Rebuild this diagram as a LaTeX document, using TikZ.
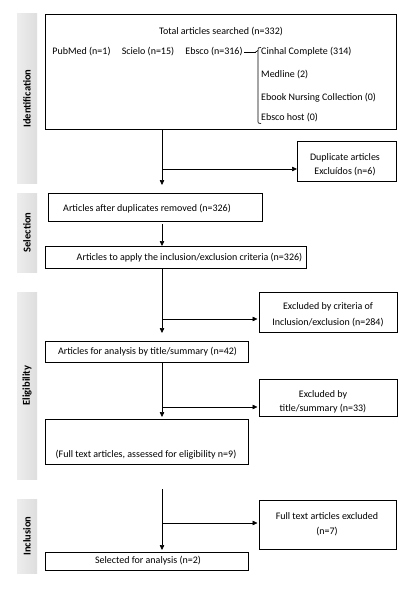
\documentclass[tikz,border=0pt]{standalone}
\usepackage{fontspec}
\setmainfont{Carlito}
\usetikzlibrary{arrows.meta}
\begin{document}
\begin{tikzpicture}[x=1pt,y=-1pt,
 box/.style={draw=black, line width=0.8pt, inner sep=0pt, outer sep=0pt},
 txt/.style={font=\fontsize{10}{15}\selectfont, inner sep=0pt, align=center},
 bar/.style={left color=gray!14, right color=gray!26, draw=none, inner sep=0pt, minimum width=20},
 barlbl/.style={font=\fontsize{10.5}{12}\selectfont\bfseries, rotate=90, inner sep=0pt},
 arr/.style={line width=0.6pt, -{Triangle[length=5pt,width=4.5pt]}},
 ln/.style={line width=0.6pt}]
\useasboundingbox (0,0) rectangle (415,591);
\fill[white] (0,0) rectangle (415,591);

% phase bars
\node[bar, minimum height=169] (idbar) at (27,98.5) {};
\node[barlbl] at (idbar) {Identification};
\node[bar, minimum height=79] (selbar) at (27,232.5) {};
\node[barlbl] at (selbar) {Selection};
\node[bar, minimum height=187] (elbar) at (27,385.5) {};
\node[barlbl] at (elbar) {Eligibility};
\node[bar, minimum height=74] (inbar) at (27,536) {};
\node[barlbl] at (inbar) {Inclusion};

% boxes
\node[box, minimum width=351, minimum height=115] (main) at (220.5,71.5) {};
\node[box, minimum width=99,  minimum height=40]  (dup)  at (346.5,161) {};
\node[box, minimum width=214, minimum height=28]  (after) at (155,207) {};
\node[box, minimum width=261, minimum height=22]  (apply) at (175.5,257) {};
\node[box, minimum width=138, minimum height=40]  (excla) at (328,312) {};
\node[box, minimum width=203, minimum height=21]  (title) at (146.5,351.5) {};
\node[box, minimum width=138, minimum height=37]  (exclb) at (328,397.5) {};
\node[box, minimum width=203, minimum height=45]  (full) at (146.5,441.5) {};
\node[box, minimum width=137, minimum height=49]  (exclc) at (327.5,524.5) {};
\node[box, minimum width=203, minimum height=18]  (sel) at (146.5,561) {};

% texts in the main box
\node[txt] (total) at (221,32) {Total articles searched (n=332)};
\node[txt] (pub) at (81.5,52) {PubMed (n=1)};
\node[txt] (sci) at (148,52) {Scielo (n=15)};
\node[txt] (ebs) at (214,52) {Ebsco (n=316)};
\node[txt, anchor=west] (cin) at (261,52) {Cinhal Complete (314)};
\node[txt, anchor=west] (med) at (261,75) {Medline (2)};
\node[txt, anchor=west] (ebo) at (261,98) {Ebook Nursing Collection (0)};
\node[txt, anchor=west] (ebh) at (261,118) {Ebsco host (0)};
\draw[ln] (ebs.east) ++(1.5,0) coordinate (d0) -- (255.5,52) coordinate (d1);
\draw[ln] (261,47.5) .. controls (258,47.5) .. (258,50.5) -- (258,120) .. controls (258,123.5) .. (261,123.5);
\draw[ln] (d1) -- (258,50.5);

% texts in other boxes
\node[txt, font=\fontsize{10}{14}\selectfont] at (345,165) {Duplicate articles\\Excluídos (n=6)};
\node[txt] at (147,209) {Articles after duplicates removed (n=326)};
\node[txt] at (189.5,258) {Articles to apply the inclusion/exclusion criteria (n=326)};
\node[txt, font=\fontsize{10}{16}\selectfont] at (328,315) {Excluded by criteria of\\Inclusion/exclusion (n=284)};
\node[txt] at (147.5,352) {Articles for analysis by title/summary (n=42)};
\node[txt, font=\fontsize{10}{14}\selectfont] at (323,402) {Excluded by\\title/summary (n=33)};
\node[txt] at (146,455) {(Full text articles, assessed for eligibility n=9)};
\node[txt] at (327,524.5) {Full text articles excluded\\(n=7)};
\node[txt] at (148,561) {Selected for analysis (n=2)};

% spine and connectors
\coordinate (sp) at (162,0);
\draw[arr, shorten >=8pt] (main.south -| sp) -- (after.north -| sp);
\draw[arr, shorten <=3pt] (after.south -| sp) -- (apply.north -| sp);
\draw[arr, shorten >=8pt] (apply.south -| sp) -- (title.north -| sp);
\draw[arr, shorten >=2pt] (title.south -| sp) -- (full.north -| sp);
\draw[arr, shorten <=25pt, shorten >=2pt] (full.south -| sp) -- (sel.north -| sp);

\coordinate (ba) at (162,169);
\coordinate (bb) at (162,319);
\coordinate (bc) at (162,407);
\coordinate (bd) at (162,523);
\draw[arr] (ba) -- (ba -| dup.west);
\draw[arr, shorten >=1.5pt] (bb) -- (bb -| excla.west);
\draw[arr, shorten >=1.5pt] (bc) -- (bc -| exclb.west);
\draw[arr, shorten >=1.5pt] (bd) -- (bd -| exclc.west);
\end{tikzpicture}
\end{document}
